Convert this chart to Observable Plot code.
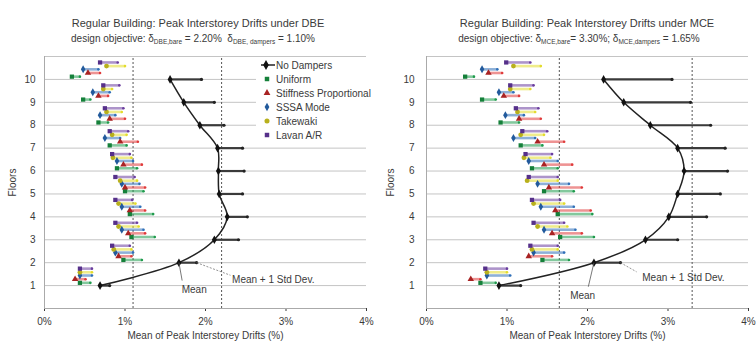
<!DOCTYPE html>
<html>
<head>
<meta charset="utf-8">
<script src="https://cdn.jsdelivr.net/npm/d3@7"></script>
<script src="https://cdn.jsdelivr.net/npm/@observablehq/plot@0.6"></script>
<style>
  body { margin: 0; background: #fff; }
  #page { position: relative; width: 756px; height: 345px; overflow: hidden; font-family: "Liberation Sans", Arial, sans-serif; color: #3a3a3a; }
  .title { position: absolute; text-align: center; font-size: 11px; white-space: nowrap; }
  .sub { position: absolute; text-align: center; font-size: 10px; white-space: nowrap; }
  .sub sub { font-size: 6.5px; vertical-align: -2px; }
  .panel { position: absolute; top: 48px; }
  #legend { position: absolute; left: 256px; top: 58px; width: 122px; height: 84px; background: #fff; font-size: 10px; }
  #legend .row { height: 14px; display: flex; align-items: center; white-space: nowrap; }
  #legend svg { width: 20px; height: 12px; flex: none; }
</style>
</head>
<body>
<div id="page">
  <div class="title" style="left:0; width:396px; top:17px;">Regular Building: Peak Interstorey Drifts under DBE</div>
  <div class="sub" style="left:0; width:386px; top:33px;">design objective: δ<sub>DBE,bare</sub> = 2.20%&nbsp; δ<sub>DBE, dampers</sub> = 1.10%</div>
  <div class="title" style="left:387px; width:400px; top:17px;">Regular Building: Peak Interstorey Drifts under MCE</div>
  <div class="sub" style="left:379px; width:400px; top:33px;">design objective: δ<sub>MCE,bare</sub>= 3.30%; δ<sub>MCE,dampers</sub> = 1.65%</div>
  <div class="panel" id="left" style="left:0;"></div>
  <div class="panel" id="right" style="left:378px;"></div>
  <div id="legend"></div>
</div>
<script>
// Floors of the building
const floors = [1, 2, 3, 4, 5, 6, 7, 8, 9, 10];

// Damper distribution methods and their colours / symbols
const methods = ["Uniform", "Stiffness Proportional", "SSSA Mode", "Takewaki", "Lavan A/R"];
const methodColors = ["#1e9a4c", "#e03a3a", "#2f6fb8", "#e3dc2c", "#6a3d9e"];
const methodMarks = ["#15803a", "#a82222", "#225a9c", "#b8b01c", "#56308a"];
const methodSymbols = ["square", "triangle", "diamond", "circle", "square"];

// DBE: mean of peak interstorey drifts (%) and one standard deviation, floors 1..10
const dbeBareMean = [0.69, 1.67, 2.11, 2.27, 2.17, 2.16, 2.15, 1.93, 1.73, 1.56];
const dbeBareStd  = [0.12, 0.22, 0.30, 0.25, 0.29, 0.32, 0.31, 0.30, 0.38, 0.39];
const dbeUniformMean   = [0.44, 0.98, 1.08, 1.06, 1.00, 0.90, 0.81, 0.67, 0.48, 0.34];
const dbeUniformStd    = [0.13, 0.23, 0.29, 0.29, 0.23, 0.25, 0.21, 0.12, 0.09, 0.10];
const dbeStiffnessMean = [0.38, 0.92, 1.04, 1.06, 1.00, 0.98, 0.94, 0.81, 0.67, 0.54];
const dbeStiffnessStd  = [0.13, 0.16, 0.21, 0.19, 0.25, 0.23, 0.22, 0.19, 0.12, 0.15];
const dbeSSSAMean      = [0.44, 0.88, 0.96, 0.96, 0.96, 0.90, 0.75, 0.69, 0.60, 0.48];
const dbeSSSAStd       = [0.15, 0.22, 0.27, 0.23, 0.22, 0.20, 0.19, 0.19, 0.21, 0.19];
const dbeTakewakiMean  = [0.44, 0.86, 0.92, 0.92, 0.94, 0.85, 0.84, 0.77, 0.73, 0.77];
const dbeTakewakiStd   = [0.15, 0.22, 0.25, 0.21, 0.21, 0.23, 0.18, 0.19, 0.11, 0.23];
const dbeLavanMean     = [0.44, 0.84, 0.88, 0.88, 0.88, 0.84, 0.81, 0.75, 0.73, 0.69];
const dbeLavanStd      = [0.15, 0.22, 0.27, 0.21, 0.24, 0.22, 0.23, 0.23, 0.20, 0.22];

// MCE: mean of peak interstorey drifts (%) and one standard deviation, floors 1..10
const mceBareMean = [0.90, 2.08, 2.72, 3.01, 3.12, 3.20, 3.12, 2.78, 2.45, 2.20];
const mceBareStd  = [0.27, 0.33, 0.40, 0.47, 0.53, 0.54, 0.59, 0.75, 0.83, 0.85];
const mceUniformMean   = [0.67, 1.44, 1.66, 1.63, 1.46, 1.31, 1.17, 0.92, 0.69, 0.48];
const mceUniformStd    = [0.19, 0.33, 0.42, 0.43, 0.37, 0.32, 0.27, 0.23, 0.17, 0.11];
const mceStiffnessMean = [0.55, 1.27, 1.56, 1.60, 1.52, 1.46, 1.38, 1.15, 0.96, 0.77];
const mceStiffnessStd  = [0.12, 0.29, 0.37, 0.44, 0.41, 0.35, 0.33, 0.27, 0.19, 0.17];
const mceSSSAMean      = [0.75, 1.33, 1.46, 1.42, 1.38, 1.27, 1.08, 0.98, 0.90, 0.69];
const mceSSSAStd       = [0.29, 0.38, 0.39, 0.41, 0.39, 0.36, 0.27, 0.23, 0.18, 0.19];
const mceTakewakiMean  = [0.75, 1.31, 1.38, 1.33, 1.25, 1.21, 1.17, 1.13, 1.04, 1.08];
const mceTakewakiStd   = [0.25, 0.32, 0.37, 0.38, 0.38, 0.33, 0.29, 0.22, 0.25, 0.34];
const mceLavanMean     = [0.73, 1.29, 1.33, 1.31, 1.27, 1.23, 1.19, 1.11, 1.04, 0.99];
const mceLavanStd      = [0.27, 0.34, 0.38, 0.35, 0.36, 0.33, 0.31, 0.28, 0.29, 0.30];

// Design objectives (%)
const dbeObjectives = [2.20, 1.10];
const mceObjectives = [3.30, 1.65];

// Axis ticks
const xTicks = [0, 1, 2, 3, 4];

// Vertical stagger of each method within a floor band
const stagger = [0.12, 0.28, 0.44, 0.58, 0.74];

function methodRows(means, stds) {
  const rows = [];
  methods.forEach((m, i) => {
    floors.forEach((f, j) => {
      rows.push({method: m, floor: f, y: f + stagger[i], mean: means[i][j], end: means[i][j] + stds[i][j]});
    });
  });
  return rows;
}

function bareRows(mean, std) {
  return floors.map((f, j) => ({floor: f, mean: mean[j], end: mean[j] + std[j]}));
}

function panel({bare, rows, objectives, marginLeft, marginRight, tickPadding, labels}) {
  const p2 = bare[1];
  return Plot.plot({
    width: 378,
    height: 297,
    marginTop: 8,
    marginBottom: 37,
    marginLeft,
    marginRight,
    style: {fontFamily: "'Liberation Sans', Arial, sans-serif", fontSize: "10px", color: "#3a3a3a", background: "transparent"},
    x: {domain: [0, 4], ticks: xTicks, tickFormat: d => d + "%", tickSize: 3, label: "Mean of Peak Interstorey Drifts (%)", labelAnchor: "center", labelArrow: "none", labelOffset: 30},
    y: {domain: [0, 11], ticks: floors, tickSize: 0, tickPadding, label: "Floors", labelAnchor: "center", labelArrow: "none", labelOffset: marginLeft - 8},
    color: {domain: methods, range: methodColors},
    symbol: {domain: methods, range: methodSymbols},
    marks: [
      Plot.gridY(d3.range(1, 12), {stroke: "#c4c4c4", strokeOpacity: 1}),
      Plot.ruleX([0], {stroke: "#aaa"}),
      Plot.ruleY([0], {stroke: "#aaa"}),
      Plot.ruleX(objectives, {y1: 0, y2: 11, stroke: "#555", strokeDasharray: "2,2"}),
      // damper methods: mean to mean + 1 std
      Plot.link(rows, {x1: "mean", x2: "end", y1: "y", y2: "y", stroke: "method", strokeWidth: 2.6, strokeOpacity: 0.55}),
      Plot.dot(rows, {x: "end", y: "y", r: 1.3, fill: "method", stroke: "none"}),
      Plot.dot(rows, {x: "mean", y: "y", symbol: "method", r: 2.4, fill: d => methodMarks[methods.indexOf(d.method)], stroke: "none"}),
      // bare building
      Plot.link(bare, {x1: "mean", x2: "end", y1: "floor", y2: "floor", stroke: "#3a3a3a", strokeWidth: 2.2}),
      Plot.dot(bare, {x: "end", y: "floor", r: 1.6, fill: "#222"}),
      Plot.line(bare, {x: "mean", y: "floor", curve: "catmull-rom", stroke: "#222", strokeWidth: 1.5}),
      Plot.dot(bare, {x: "mean", y: "floor", symbol: "diamond", r: 2.6, fill: "#111"}),
      // annotations
      Plot.link([p2], {x1: "mean", y1: "floor", x2: d => d.mean + labels.meanLead[0], y2: labels.meanLead[1], stroke: "#555", strokeWidth: 0.8}),
      Plot.text([p2], {x: d => d.mean + labels.meanText[0], y: labels.meanText[1], text: () => "Mean", fontSize: 10, fill: "#3a3a3a"}),
      Plot.link([p2], {x1: "end", y1: "floor", x2: d => d.end + labels.stdLead[0], y2: labels.stdLead[1], stroke: "#777", strokeWidth: 0.8, strokeDasharray: "2,1.5"}),
      Plot.text([p2], {x: d => d.end + labels.stdText[0], y: labels.stdText[1], text: () => "Mean + 1 Std Dev.", textAnchor: "start", fontSize: 10, fill: "#3a3a3a"})
    ]
  });
}

const dbe = panel({
  bare: bareRows(dbeBareMean, dbeBareStd),
  rows: methodRows([dbeUniformMean, dbeStiffnessMean, dbeSSSAMean, dbeTakewakiMean, dbeLavanMean],
                   [dbeUniformStd, dbeStiffnessStd, dbeSSSAStd, dbeTakewakiStd, dbeLavanStd]),
  objectives: dbeObjectives,
  marginLeft: 44, marginRight: 12, tickPadding: 9,
  labels: {meanLead: [0.04, 1.22], meanText: [0.19, 0.83], stdLead: [0.42, 1.45], stdText: [0.44, 1.27]}
});
document.getElementById("left").append(dbe);

const mce = panel({
  bare: bareRows(mceBareMean, mceBareStd),
  rows: methodRows([mceUniformMean, mceStiffnessMean, mceSSSAMean, mceTakewakiMean, mceLavanMean],
                   [mceUniformStd, mceStiffnessStd, mceSSSAStd, mceTakewakiStd, mceLavanStd]),
  objectives: mceObjectives,
  marginLeft: 48, marginRight: 8, tickPadding: 12,
  labels: {meanLead: [-0.07, 0.95], meanText: [-0.14, 0.57], stdLead: [0.2, 1.6], stdText: [0.27, 1.36]}
});
document.getElementById("right").append(mce);

// Legend
const legend = d3.select("#legend");
const bareRow = legend.append("div").attr("class", "row");
const bs = bareRow.append("svg");
bs.append("line").attr("x1", 5).attr("x2", 19).attr("y1", 6).attr("y2", 6).attr("stroke", "#222").attr("stroke-width", 1.5);
bs.append("path").attr("d", d3.symbol(d3.symbolDiamond, 28)()).attr("transform", "translate(10,6)").attr("fill", "#111");
bareRow.append("span").text("No Dampers");
const symbolTypes = {square: d3.symbolSquare, triangle: d3.symbolTriangle, diamond: d3.symbolDiamond, circle: d3.symbolCircle};
methods.forEach((m, i) => {
  const row = legend.append("div").attr("class", "row");
  const s = row.append("svg");
  s.append("path").attr("d", d3.symbol(symbolTypes[methodSymbols[i]], 20)()).attr("transform", "translate(11,6)").attr("fill", methodMarks[i]);
  row.append("span").text(m);
});
</script>
</body>
</html>
